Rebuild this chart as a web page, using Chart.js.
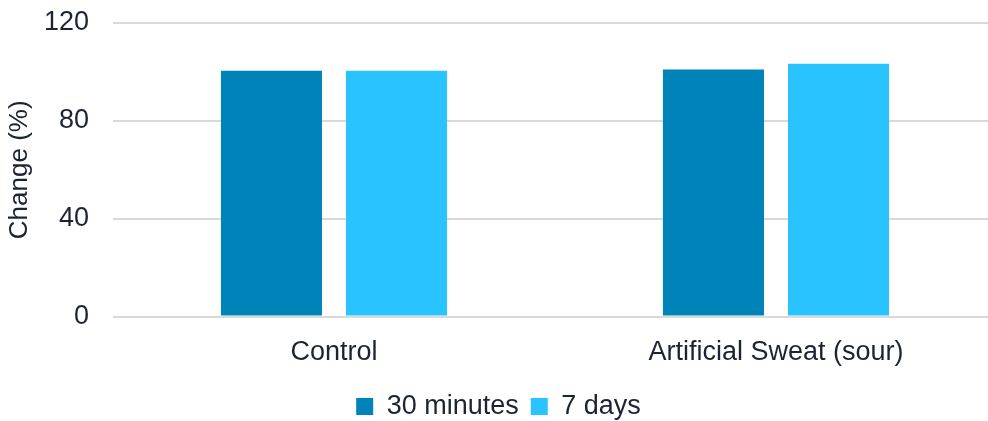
<!DOCTYPE html>
<html>
<head>
<meta charset="utf-8">
<script src="https://cdn.jsdelivr.net/npm/chart.js@4"></script>
<style>
  html, body { margin: 0; padding: 0; background: #fff; overflow: hidden; }
  #wrap { position: relative; width: 997px; height: 430px; }
</style>
</head>
<body>
<div id="wrap"><canvas id="changeChart"></canvas></div>
<script>
// values
const categories = ['Control', 'Artificial Sweat (sour)'];
const seriesNames = ['30 minutes', '7 days'];
const thirtyMinutes = [100.5, 101];
const sevenDays = [100.5, 103.3];
const yTicks = [0, 40, 80, 120];

const textColor = '#1c2433';
const font = 'Liberation Sans, Arial, sans-serif';

const ctx = document.getElementById('changeChart').getContext('2d');
new Chart(ctx, {
  type: 'bar',
  data: {
    labels: categories,
    datasets: [{
      label: seriesNames[0],
      data: thirtyMinutes,
      backgroundColor: '#0083b8'
    }, {
      label: seriesNames[1],
      data: sevenDays,
      backgroundColor: '#29c3ff'
    }]
  },
  options: {
    responsive: true,
    maintainAspectRatio: false,
    animation: false,
    categoryPercentage: 0.566,
    barPercentage: 0.808,
    layout: { padding: { top: 23, right: 0, left: 0, bottom: 0 } },
    plugins: {
      tooltip: { enabled: false },
      legend: {
        position: 'bottom',
        labels: {
          color: textColor,
          font: { family: font, size: 27 },
          boxWidth: 17,
          boxHeight: 17,
          padding: 12
        }
      }
    },
    scales: {
      x: {
        grid: { display: false },
        border: { display: false },
        ticks: { color: textColor, font: { family: font, size: 27 }, padding: 12 }
      },
      y: {
        min: 0,
        max: 120,
        afterBuildTicks: (axis) => { axis.ticks = yTicks.map(v => ({ value: v })); },
        afterFit: (axis) => {
          axis.width = 113;
          axis.paddingTop = 0;
          axis.paddingBottom = 0;
        },
        grid: { color: '#d9d9d9', lineWidth: 2, drawTicks: false },
        border: { display: false },
        ticks: { color: textColor, font: { family: font, size: 27 }, padding: 24 },
        title: {
          display: true,
          text: 'Change (%)',
          color: textColor,
          font: { family: font, size: 26 },
          padding: { top: 4, bottom: 0 }
        }
      }
    }
  }
});
</script>
</body>
</html>
